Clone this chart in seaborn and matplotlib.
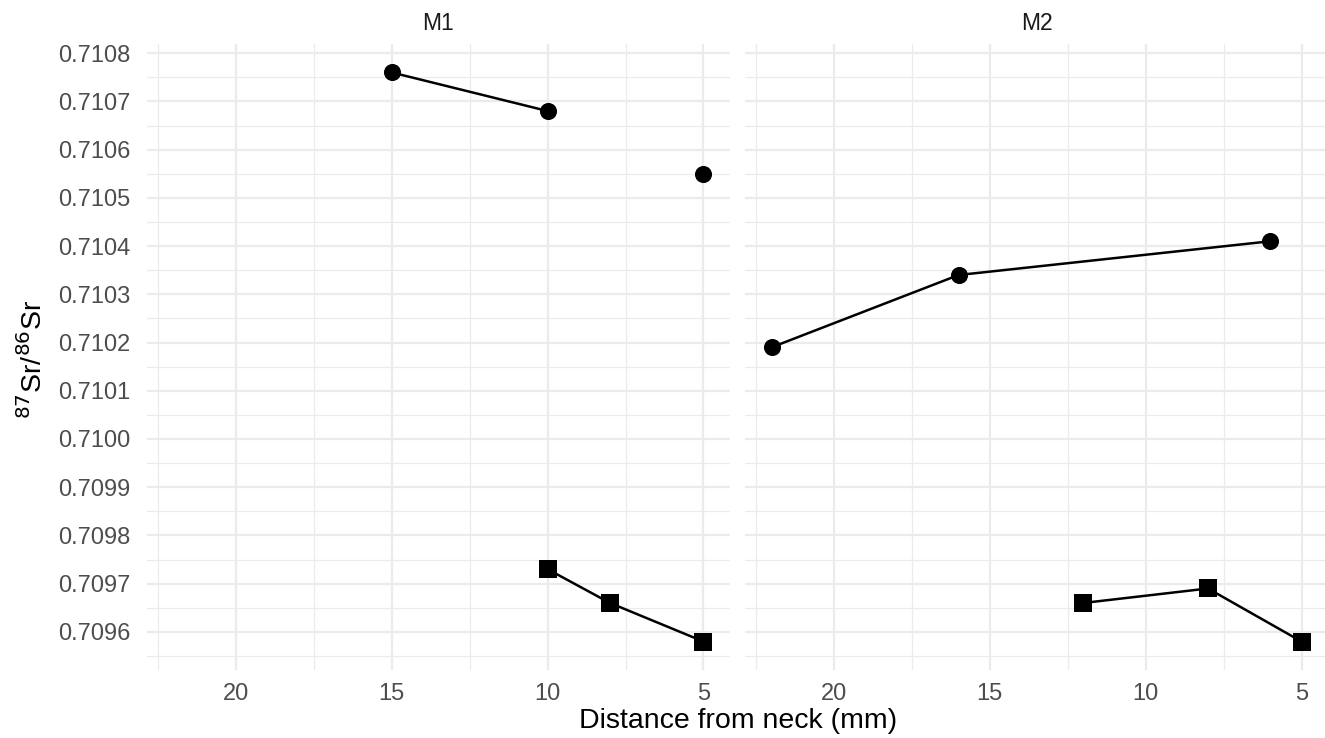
import numpy as np
import pandas as pd
import matplotlib
matplotlib.use("Agg")
import matplotlib.pyplot as plt
import seaborn as sns
from matplotlib.ticker import MultipleLocator, FormatStrFormatter

# ---------------- data ----------------
teeth = ["M1", "M2"]

# circles (NaN breaks the line)
m1_circle_dist = [15, 10, 8, 5]
m1_circle_sr = [0.71076, 0.71068, np.nan, 0.71055]
m2_circle_dist = [22, 16, 6]
m2_circle_sr = [0.71019, 0.71034, 0.71041]

# squares
m1_square_dist = [10, 8, 5]
m1_square_sr = [0.70973, 0.70966, 0.70958]
m2_square_dist = [12, 8, 5]
m2_square_sr = [0.70966, 0.70969, 0.70958]

x_ticks = [20, 15, 10, 5]
y_ticks = [0.7096, 0.7097, 0.7098, 0.7099, 0.7100, 0.7101, 0.7102,
           0.7103, 0.7104, 0.7105, 0.7106, 0.7107, 0.7108]


def frame(tooth, series, dist, sr):
    df = pd.DataFrame({"tooth": tooth, "series": series, "dist": dist, "sr": sr})
    df["seg"] = df["sr"].isna().cumsum()
    return df


data = pd.concat([
    frame("M1", "circle", m1_circle_dist, m1_circle_sr),
    frame("M2", "circle", m2_circle_dist, m2_circle_sr),
    frame("M1", "square", m1_square_dist, m1_square_sr),
    frame("M2", "square", m2_square_dist, m2_square_sr),
], ignore_index=True)
data["unit"] = data["series"] + "_" + data["seg"].astype(str)

# ---------------- style ----------------
sns.set_theme(style="white")
plt.rcParams["font.family"] = ["Liberation Sans", "DejaVu Sans"]

W, H = 1325, 738
fig = plt.figure(figsize=(W / 100, H / 100), dpi=100)

top_px, bot_px = 44, 670
panels = [(147, 730), (745, 1328)]

all_x = data["dist"].dropna()
xr = all_x.max() - all_x.min()
xlim = (all_x.max() + 0.05 * xr, all_x.min() - 0.05 * xr)
all_y = data["sr"].dropna()
yr = all_y.max() - all_y.min()
ylim = (all_y.min() - 0.05 * yr, all_y.max() + 0.05 * yr)

grid_col = "#EBEBEB"
axes = []
for i, (tooth, (x0, x1)) in enumerate(zip(teeth, panels)):
    ax = fig.add_axes([x0 / W, 1 - bot_px / H, (x1 - x0) / W, (bot_px - top_px) / H])
    axes.append(ax)
    sub = data[data["tooth"] == tooth]
    for series, marker, ms in [("circle", "o", 12), ("square", "s", 12)]:
        s = sub[(sub["series"] == series)].dropna(subset=["sr"])
        sns.lineplot(data=s, x="dist", y="sr", units="unit", estimator=None,
                     sort=False, color="black", linewidth=1.8, ax=ax)
        sns.scatterplot(data=s, x="dist", y="sr", marker=marker, s=ms ** 2 * 1.05,
                        color="black", edgecolor="black", linewidth=0, ax=ax, zorder=5)
    ax.set_xlim(*xlim)
    ax.set_ylim(*ylim)
    ax.xaxis.set_minor_locator(MultipleLocator(2.5))
    ax.set_xticks(x_ticks)
    ax.set_yticks(y_ticks)
    ax.yaxis.set_minor_locator(MultipleLocator(0.00005))
    ax.yaxis.set_major_formatter(FormatStrFormatter("%.4f"))
    ax.grid(True, which="major", color=grid_col, linewidth=1.6, zorder=0)
    ax.grid(True, which="minor", color=grid_col, linewidth=0.9, zorder=0)
    ax.set_axisbelow(True)
    for sp in ax.spines.values():
        sp.set_visible(False)
    ax.tick_params(axis="both", which="both", length=0, labelsize=17,
                   labelcolor="#4D4D4D")
    ax.tick_params(axis="x", pad=9)
    ax.tick_params(axis="y", pad=12)
    ax.set_xlabel("")
    ax.set_ylabel("")
    if i == 1:
        ax.set_yticklabels([])
    ax.set_title(tooth, fontsize=16.5, color="#1A1A1A", pad=10)

fig.text(738 / W, 1 - 721 / H, "Distance from neck (mm)", ha="center", va="center",
         fontsize=20.5, color="black")
fig.text(33 / W, 1 - 359 / H, r"$^{87}$Sr/$^{86}$Sr", ha="center", va="center",
         rotation=90, fontsize=20.5, color="black")

fig.savefig("out.png", dpi=100, facecolor="white")
